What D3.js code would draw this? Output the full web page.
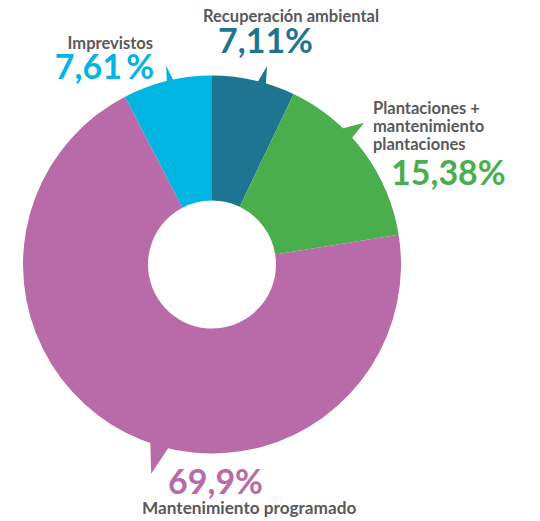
<!DOCTYPE html>
<html>
<head>
<meta charset="utf-8">
<script src="https://cdn.jsdelivr.net/npm/d3@7"></script>
<style>
  html, body { margin: 0; padding: 0; background: #fff; }
  svg { display: block; }
  text { font-family: Lato, "Open Sans", sans-serif; font-weight: 700; }
</style>
</head>
<body>
<svg id="chart" width="540" height="521"></svg>
<script>
// ---- data ----
const categories = ["Recuperación ambiental", "Plantaciones + mantenimiento plantaciones", "Mantenimiento programado", "Imprevistos"];
const nameLines = [["Recuperación ambiental"], ["Plantaciones +", "mantenimiento", "plantaciones"], ["Mantenimiento programado"], ["Imprevistos"]];
const values = [7.11, 15.38, 69.9, 7.61];
const valueSuffix = ["%", "%", "%", "\u2009%"];
const colors = ["#1e7592", "#4aae4c", "#b96aa8", "#00b5e2"];

// ---- layout ----
const W = 540, H = 521;
const cx = 212, cy = 264.5, outerR = 189, innerR = 64;
// speech-bubble tails: base angles and tip angle (deg, clockwise from 12h), base radius, tip radius
const tails = [
  { a1: 13.6, a2: 17.0, tip: 15.5, rb: outerR - 6, rt: 206 },
  { a1: 41.5, a2: 48.5, tip: 47.0, rb: outerR - 12, rt: 208 },
  { a1: 200.0, a2: 192.5, tip: 196.2, rb: outerR - 8, rt: 218 },
  { a1: -14.2, a2: -11.4, tip: -13.0, rb: outerR - 6, rt: 204 }
];
// label positions: name lines and value
const labels = [
  { nx: 203, ny: [22], nAnchor: "start", nSize: 16.5, vx: 218, vy: 53, vAnchor: "start" },
  { nx: 373, ny: [114, 132, 150], nAnchor: "start", nSize: 16.5, vx: 391, vy: 185, vAnchor: "start" },
  { nx: 142, ny: [514], nAnchor: "start", nSize: 17.2, vx: 168, vy: 494, vAnchor: "start" },
  { nx: 153, ny: [49], nAnchor: "end", nSize: 16.5, vx: 154, vy: 79, vAnchor: "end" }
];

const svg = d3.select("#chart");
const g = svg.append("g").attr("transform", `translate(${cx},${cy})`);

const pie = d3.pie().sort(null).value(d => d).startAngle(0).endAngle(2 * Math.PI);
const arcs = pie(values);
const arc = d3.arc().innerRadius(innerR).outerRadius(outerR);

const rad = d => d * Math.PI / 180;

// tails
g.selectAll("path.tail").data(tails).join("path")
  .attr("class", "tail")
  .attr("fill", (d, i) => colors[i])
  .attr("d", t => {
    const p1 = d3.pointRadial(rad(t.a1), t.rb);
    const p2 = d3.pointRadial(rad(t.tip), t.rt);
    const p3 = d3.pointRadial(rad(t.a2), t.rb);
    return d3.line()([p1, p2, p3]) + "Z";
  });

// slices
g.selectAll("path.slice").data(arcs).join("path")
  .attr("class", "slice")
  .attr("fill", (d, i) => colors[i])
  .attr("d", arc);

// labels
const fmt = (v, i) => String(v).replace(".", ",") + valueSuffix[i];
labels.forEach((L, i) => {
  nameLines[i].forEach((line, j) => {
    svg.append("text")
      .attr("x", L.nx).attr("y", L.ny[j])
      .attr("text-anchor", L.nAnchor)
      .attr("font-size", L.nSize)
      .attr("fill", "#58595b")
      .text(line);
  });
  svg.append("text")
    .attr("x", L.vx).attr("y", L.vy)
    .attr("text-anchor", L.vAnchor)
    .attr("font-size", 34)
    .attr("fill", colors[i])
    .text(fmt(values[i], i));
});
</script>
</body>
</html>
